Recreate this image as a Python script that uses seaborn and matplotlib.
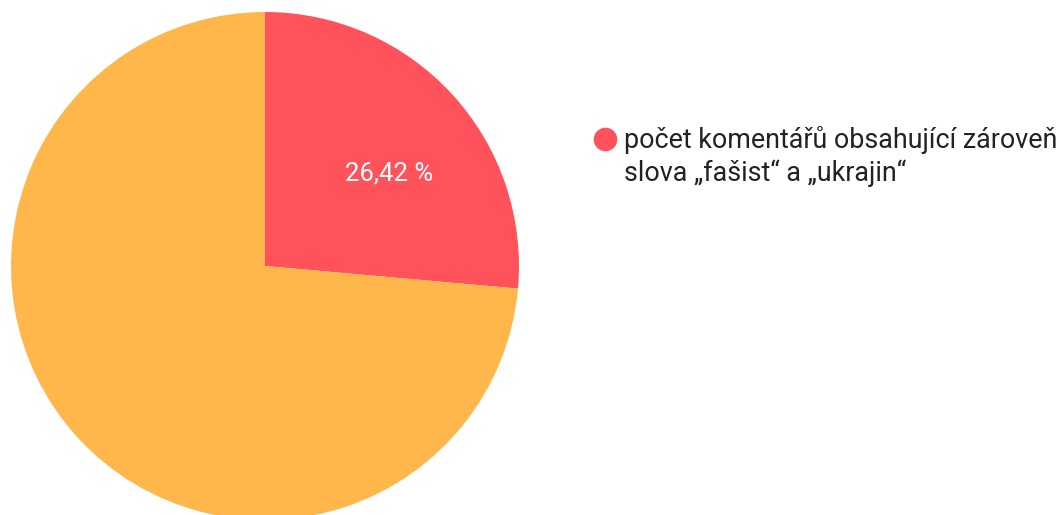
import matplotlib
matplotlib.use("Agg")
import matplotlib.pyplot as plt
from matplotlib.lines import Line2D
import seaborn as sns

# data
labels = ["počet komentářů obsahující zároveň\nslova „fašist“ a „ukrajin“", "ostatní"]
shares = [26.42, 73.58]
colors = ["#FF525B", "#FFB74B"]

sns.set_theme(style="white")
plt.rcParams['font.family'] = ['Roboto', 'DejaVu Sans']

fig = plt.figure(figsize=(10.62, 5.15), dpi=100)
# pie centre ~ (265, 266) px from top, radius ~254 px
W, H = 1062, 515
cx, cy, r = 265, 266, 254
ax = fig.add_axes([(cx - r) / W, (H - cy - r) / H, 2 * r / W, 2 * r / H])

pal = sns.color_palette(colors)
wedges, texts, autotexts = ax.pie(
    shares, colors=pal, startangle=90, counterclock=False, radius=1,
    autopct=lambda p: (f"{p:.2f} %".replace(".", ",") if p < 50 else ""),
    pctdistance=0.6, wedgeprops=dict(linewidth=0),
    textprops=dict(color="white", fontsize=18.5))
for w in wedges:
    w.set_clip_on(False)
# nudge the label to where the reference has it
autotexts[0].set_position((124 / r, 92 / r))
autotexts[0].set_ha("center")
autotexts[0].set_va("center")
ax.set_xlim(-1, 1)
ax.set_ylim(-1, 1)
ax.set_aspect("equal")
ax.axis("off")

# legend for the red slice only (marker lined up with the first line)
fig.add_artist(Line2D([605 / W], [1 - 139 / H], marker="o", linestyle="",
                      markersize=17, markerfacecolor=colors[0],
                      markeredgewidth=0, transform=fig.transFigure))
fig.text(624 / W, 1 - 126 / H, labels[0], ha="left", va="top",
         fontsize=19.4, color="#222222", linespacing=1.27)

fig.savefig("out.png", dpi=100)
